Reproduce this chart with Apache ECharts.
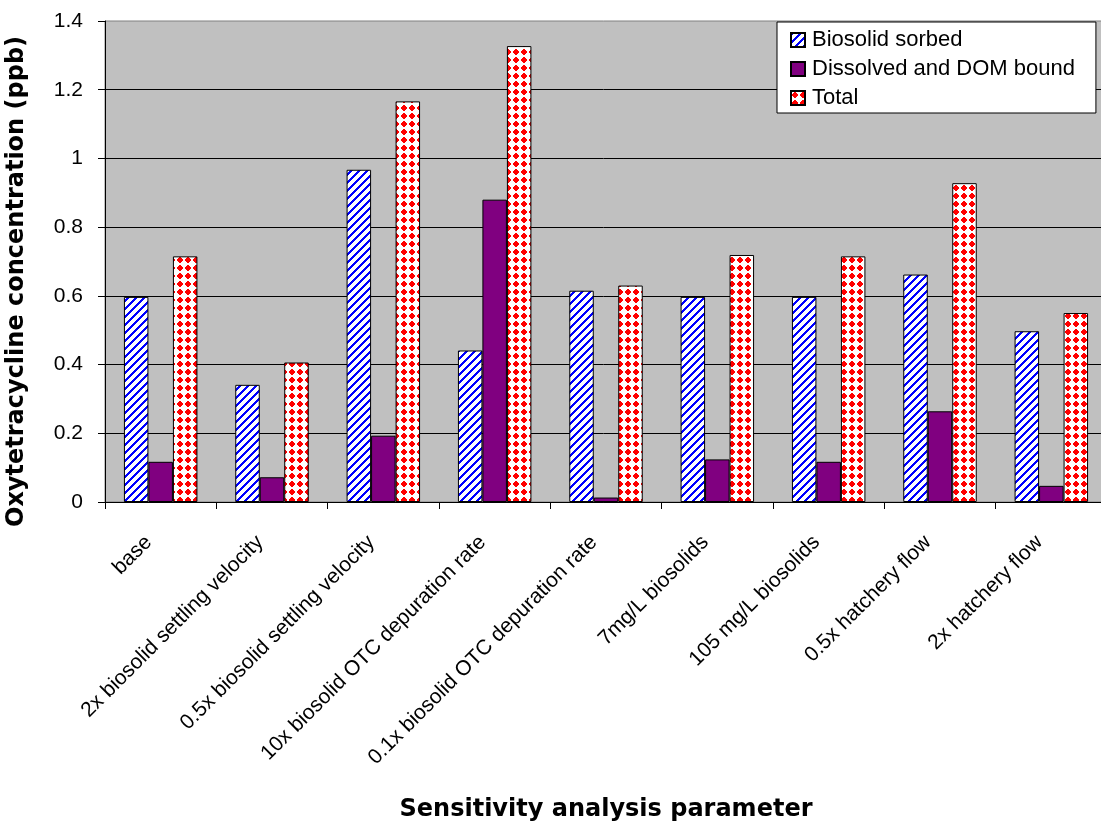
<!DOCTYPE html>
<html>
<head>
<meta charset="utf-8">
<script src="https://cdn.jsdelivr.net/npm/echarts@6/dist/echarts.min.js"></script>
<style>
  html, body { margin: 0; padding: 0; background: #ffffff; }
  #chart { width: 1101px; height: 827px; }
</style>
</head>
<body>
<div id="chart"></div>
<script>
// Sensitivity runs and the resulting oxytetracycline concentrations (ppb)
const categories = [
  'base',
  '2x biosolid settling velocity',
  '0.5x biosolid settling velocity',
  '10x biosolid OTC depuration rate',
  '0.1x biosolid OTC depuration rate',
  '7mg/L biosolids',
  '105 mg/L biosolids',
  '0.5x hatchery flow',
  '2x hatchery flow'
];
const biosolidSorbed = [0.597, 0.341, 0.967, 0.441, 0.615, 0.597, 0.597, 0.662, 0.497];
const dissolvedDomBound = [0.117, 0.072, 0.193, 0.880, 0.013, 0.124, 0.117, 0.264, 0.047];
const totalConc = [0.715, 0.406, 1.166, 1.327, 0.630, 0.719, 0.715, 0.928, 0.550];
const seriesNames = ['Biosolid sorbed', 'Dissolved and DOM bound', 'Total'];

// Small repeating tiles used as bar fills
function makeTile(size, painter) {
  const c = document.createElement('canvas');
  c.width = size; c.height = size;
  const ctx = c.getContext('2d');
  const img = ctx.createImageData(size, size);
  for (let y = 0; y < size; y++) {
    for (let x = 0; x < size; x++) {
      const rgb = painter(x, y);
      const i = (y * size + x) * 4;
      img.data[i] = rgb[0]; img.data[i + 1] = rgb[1]; img.data[i + 2] = rgb[2]; img.data[i + 3] = 255;
    }
  }
  ctx.putImageData(img, 0, 0);
  return c;
}
// upward diagonal blue stripes
const stripeTile = makeTile(8, (x, y) => ((x + y) % 8) < 3 ? [0, 0, 255] : [255, 255, 255]);
// red diamonds on white
const diamondTile = makeTile(8, (x, y) => (Math.abs(x - 3.5) + Math.abs(y - 3.5) <= 3.1) ? [255, 0, 0] : [255, 255, 255]);

const chart = echarts.init(document.getElementById('chart'), null, { renderer: 'canvas' });

const barBorder = { borderColor: '#000000', borderWidth: 1 };

chart.setOption({
  animation: false,
  backgroundColor: '#ffffff',
  textStyle: { fontFamily: 'Liberation Sans, Arial, sans-serif', color: '#000000' },
  grid: {
    left: 105, right: -6, top: 21, bottom: 325,
    outerBoundsMode: 'none',
    containLabel: false,
    show: true, backgroundColor: '#C0C0C0', borderColor: '#808080', borderWidth: 1
  },
  legend: {
    orient: 'vertical',
    left: 777, top: 22,
    padding: [7, 21, 4, 13],
    itemGap: 7,
    itemWidth: 14, itemHeight: 14,
    backgroundColor: '#ffffff',
    borderColor: '#000000', borderWidth: 1,
    borderRadius: 0,
    icon: 'rect',
    textStyle: { fontSize: 22, lineHeight: 22, color: '#000000', fontFamily: 'Liberation Sans, Arial, sans-serif', padding: [0, 0, 0, 2] },
    data: seriesNames
  },
  xAxis: {
    type: 'category',
    data: categories,
    name: 'Sensitivity analysis parameter',
    nameLocation: 'middle',
    nameGap: 296,
    nameTextStyle: { fontSize: 24, fontWeight: 'bold', fontFamily: 'DejaVu Sans, sans-serif', color: '#000000' },
    axisLine: { lineStyle: { color: '#000000', width: 1 } },
    axisTick: { show: true, length: 7, lineStyle: { color: '#000000' } },
    axisLabel: { interval: 0, rotate: 45, fontSize: 21, margin: 25, padding: [0, 17, 0, 0], color: '#000000' },
    splitLine: { show: false }
  },
  yAxis: {
    type: 'value',
    min: 0, max: 1.4, interval: 0.2,
    name: 'Oxytetracycline concentration (ppb)',
    nameLocation: 'middle',
    nameGap: 76,
    nameRotate: 90,
    nameTextStyle: { fontSize: 24, fontWeight: 'bold', fontFamily: 'DejaVu Sans, sans-serif', color: '#000000', padding: [0, 40, 0, 0] },
    axisLine: { show: true, lineStyle: { color: '#000000', width: 1 } },
    axisTick: { show: true, length: 7, lineStyle: { color: '#000000' } },
    axisLabel: { fontSize: 21, margin: 22, color: '#000000' },
    splitLine: { show: true, showMaxLine: false, lineStyle: { color: '#000000', width: 1 } }
  },
  series: [
    {
      name: seriesNames[0], type: 'bar', data: biosolidSorbed,
      barGap: '0%', barCategoryGap: '34%',
      itemStyle: Object.assign({ color: { image: stripeTile, repeat: 'repeat' } }, barBorder)
    },
    {
      name: seriesNames[1], type: 'bar', data: dissolvedDomBound,
      barGap: '0%', barCategoryGap: '34%',
      itemStyle: Object.assign({ color: '#800080' }, barBorder)
    },
    {
      name: seriesNames[2], type: 'bar', data: totalConc,
      barGap: '0%', barCategoryGap: '34%',
      itemStyle: Object.assign({ color: { image: diamondTile, repeat: 'repeat' } }, barBorder)
    }
  ]
});
</script>
</body>
</html>
